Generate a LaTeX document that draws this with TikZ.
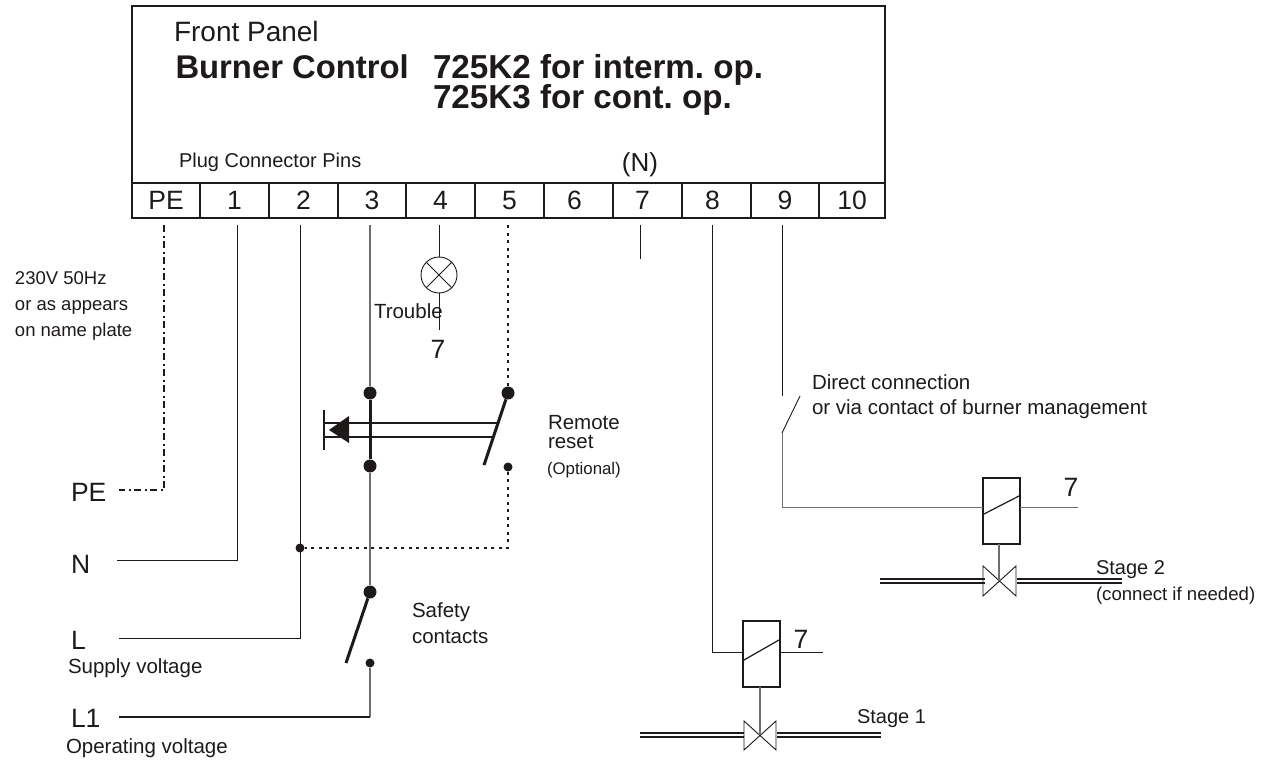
\documentclass[tikz,border=0pt]{standalone}
\usepackage{fontspec}
\setmainfont{Liberation Sans}
\definecolor{ink}{HTML}{1E1A1A}
\definecolor{wiregrey}{HTML}{6E6E6E}
\newcommand{\fs}[1]{\fontsize{#1}{#1}\selectfont\frenchspacing}
\tikzset{
  x=1pt,y=-1pt,
  lbl/.style={inner sep=0pt,outer sep=0pt,anchor=base west,text=ink},
  big/.style={lbl,font=\fs{26.5}},
  head/.style={lbl,font=\fs{32.8}\bfseries},
  mid/.style={lbl,font=\fs{20.5}},
  sideinfo/.style={lbl,font=\fs{18.5}},
  tiny/.style={lbl,font=\fs{16.8}},
  pin/.style={draw=ink,line width=1.5pt,minimum height=35pt,inner sep=0pt,outer sep=0pt,anchor=north west,font=\fs{26.5},text=ink},
  wire/.style={draw=ink,line width=0.9pt},
  greywire/.style={draw=wiregrey,line width=1.1pt},
  dotwire/.style={draw=ink,line width=1.6pt,dash pattern=on 3pt off 4.5pt},
  dashdot/.style={draw=ink,line width=1.4pt,dash pattern=on 7pt off 3.5pt on 2pt off 3.5pt},
  heavy/.style={draw=ink,line width=3pt},
  bigdot/.style={circle,fill=ink,inner sep=0pt,minimum size=13pt},
  smalldot/.style={circle,fill=ink,inner sep=0pt,minimum size=9pt},
  relay/.style={draw=ink,line width=1.3pt,inner sep=0pt,outer sep=0pt,anchor=north west},
  pipe/.style={draw=ink,line width=1.4pt},
}
\begin{document}
\begin{tikzpicture}
\useasboundingbox (0,0) rectangle (1270,760);
% panel
\node[draw=ink,line width=1.5pt,inner sep=0pt,outer sep=0pt,anchor=north west,minimum width=753pt,minimum height=212pt] (panel) at (132,6) {};
\node[lbl,font=\fs{28}] (tFront) at (174,42) {Front Panel};
\node[head] (tBurner) at (175.5,78) {Burner Control};
\node[head,font=\fs{33.2}\bfseries] (tK2) at (433,78) {725K2 for interm. op.};
\node[head,font=\fs{33.2}\bfseries] (tK3) at (433,108) {725K3 for cont. op.};
\node[mid,font=\fs{20}] (tPlug) at (179,167) {Plug Connector Pins};
\node[lbl,font=\fs{26},anchor=base] (tN) at (640,171) {(N)};
% pins
\node[pin,minimum width=68pt] (pPE) at (132,183) {PE};
\node[pin,minimum width=69pt] (p1) at (200,183) {1};
\node[pin,minimum width=69pt] (p2) at (269,183) {2};
\node[pin,minimum width=68pt] (p3) at (338,183) {3};
\node[pin,minimum width=69pt] (p4) at (406,183) {4};
\node[pin,minimum width=69pt] (p5) at (475,183) {5};
\node[pin,minimum width=69pt] (p6) at (544,183) {\kern-8pt 6};
\node[pin,minimum width=69pt] (p7) at (613,183) {\kern-10pt 7};
\node[pin,minimum width=69pt] (p8) at (682,183) {\kern-8pt 8};
\node[pin,minimum width=68pt] (p9) at (751,183) {9};
\node[pin,minimum width=66pt] (p10) at (819,183) {10};
% left labels
\node[sideinfo] (tV1) at (15,284) {230V 50Hz};
\node[sideinfo] (tV2) at (15,310) {or as appears};
\node[sideinfo] (tV3) at (15,336) {on name plate};
\node[big] (lPE) at (71,501) {PE};
\node[big] (lN) at (71,573) {N};
\node[big] (lL) at (71,649) {L};
\node[big] (lL1) at (71,727) {L1};
\node[mid] (tSupply) at (68,673) {Supply voltage};
\node[mid] (tOper) at (66,753) {Operating voltage};
% free ends
\coordinate (ePE) at (119,490);
\coordinate (eN) at (117,560);
\coordinate (eL) at (119,638);
\coordinate (eL1) at (119,717);
\coordinate (wPE) at (164,225);
\coordinate (w1) at (237,225);
\coordinate (w2) at (300,225);
\coordinate (w3) at (370,225);
\coordinate (w4) at (439,225);
\coordinate (w5) at (508,225);
\coordinate (w7) at (640,225);
\coordinate (w7e) at (640,259);
\coordinate (w8) at (712,225);
\coordinate (w9) at (782,225);
% PE, N, L
\draw[dashdot] (wPE) |- (ePE);
\draw[wire] (w1) |- (eN);
\draw[wire] (w2) |- (eL);
\draw[wire] (w7) -- (w7e);
% lamp
\node[circle,draw=ink,line width=0.9pt,minimum size=36pt,inner sep=0pt,outer sep=0pt] (lamp) at (439,275) {};
\draw[wire] (lamp.north west) -- (lamp.south east);
\draw[wire] (lamp.north east) -- (lamp.south west);
\coordinate (lampEnd) at (439,330);
\draw[wire] (w4) -- (lamp.north);
\draw[wire] (lamp.south) -- (lampEnd);
\node[mid] (tTrouble) at (374,318) {Trouble};
\node[big,anchor=base] (t7a) at (438,358) {7};
% reset
\node[bigdot] (d3a) at (370,393) {};
\node[bigdot] (d3b) at (370,466) {};
\node[bigdot] (d5a) at (508,393) {};
\node[smalldot] (d5b) at (508,467) {};
\coordinate (sw5e) at (484,465);
\draw[greywire] (w3) -- (d3a);
\draw[heavy] (d3a) -- (d3b);
\draw[dotwire] (w5) -- (d5a);
\draw[heavy] (d5a) -- (sw5e);
\coordinate (rA) at (325,423);
\coordinate (rAe) at (497,423);
\coordinate (rB) at (325,437);
\coordinate (rBe) at (493,437);
\draw[draw=ink,line width=1.6pt] (rA) -- (rAe);
\draw[draw=ink,line width=1.6pt] (rB) -- (rBe);
\coordinate (bar1) at (324,410);
\coordinate (bar2) at (324,450);
\draw[draw=ink,line width=1.4pt] (bar1) -- (bar2);
\coordinate (tri1) at (329,430);
\coordinate (tri2) at (349,416);
\coordinate (tri3) at (349,443);
\fill[ink] (tri1) -- (tri2) -- (tri3) -- cycle;
\node[mid] (tRemote) at (548,429) {Remote};
\node[mid] (tReset) at (548,448) {reset};
\node[tiny] (tOpt) at (547,474) {(Optional)};
% bus, safety
\node[smalldot] (jL) at (300,548) {};
\draw[dotwire] (d5b) |- (jL);
\node[bigdot] (d3c) at (370,592) {};
\node[smalldot] (d3d) at (370,663) {};
\coordinate (sw3e) at (346,663);
\coordinate (cL1) at (370,717);
\draw[greywire] (d3b) -- (d3c);
\draw[heavy] (d3c) -- (sw3e);
\draw[greywire] (d3d) -- (cL1);
\draw[draw=ink,line width=1.3pt] (cL1) -- (eL1);
\node[mid] (tSafety) at (412,617) {Safety};
\node[mid] (tContacts) at (412,643) {contacts};
% contact 9
\coordinate (c9a) at (782,396);
\coordinate (c9b) at (800,396);
\coordinate (c9c) at (782,433);
\draw[wire] (w9) -- (c9a);
\draw[wire] (c9b) -- (c9c);
\node[mid] (tDirect) at (812,389) {Direct connection};
\node[mid] (tVia) at (812,414) {or via contact of burner management};
% relay 2
\node[relay,minimum width=37pt,minimum height=66pt] (r2) at (983,478) {};
\coordinate (r2in) at (983,507);
\coordinate (r2o) at (1020,507);
\coordinate (r2e) at (1078,507);
\draw[wire,draw=wiregrey] (c9c) |- (r2in);
\draw[wire,draw=wiregrey] (r2o) -- (r2e);
\coordinate (r2d1) at (984,514);
\coordinate (r2d2) at (1019,496);
\draw[draw=ink,line width=1.2pt] (r2d1) -- (r2d2);
\node[big,anchor=base] (t7c) at (1071,496) {7};
% relay 1
\node[relay,minimum width=37pt,minimum height=66pt] (r1) at (743,621) {};
\coordinate (r1in) at (743,652);
\coordinate (r1o) at (780,652);
\coordinate (r1e) at (823,652);
\draw[wire] (w8) |- (r1in);
\draw[wire] (r1o) -- (r1e);
\coordinate (r1d1) at (744,660);
\coordinate (r1d2) at (779,640);
\draw[draw=ink,line width=1.2pt] (r1d1) -- (r1d2);
\node[big,anchor=base] (t7b) at (801,648) {7};
% valve 1
\coordinate (v1) at (760,735);
\coordinate (v1s) at (760,687);
\coordinate (v1a) at (744,721); \coordinate (v1b) at (744,750);
\coordinate (v1c) at (776,721); \coordinate (v1d) at (776,750);
\draw[wire] (v1a) -- (v1d) -- (v1c) -- (v1b) -- cycle;
\draw[greywire] (v1s) -- (v1);
\draw[pipe] (640,733) -- (744,733);
\draw[pipe] (640,737) -- (744,737);
\draw[pipe] (777,733) -- (881,733);
\draw[pipe] (777,737) -- (881,737);
\node[mid,font=\fs{20}] (tS1) at (857,723) {Stage 1};
% valve 2
\coordinate (v2) at (999,581);
\coordinate (v2s) at (999,544);
\coordinate (v2a) at (983,566); \coordinate (v2b) at (983,596);
\coordinate (v2c) at (1016,566); \coordinate (v2d) at (1016,596);
\draw[wire] (v2a) -- (v2d) -- (v2c) -- (v2b) -- cycle;
\draw[greywire] (v2s) -- (v2);
\draw[pipe] (880,579) -- (985,579);
\draw[pipe] (880,583) -- (985,583);
\draw[pipe] (1017,579) -- (1122,579);
\draw[pipe] (1017,583) -- (1122,583);
\node[mid,font=\fs{20}] (tS2) at (1096,574) {Stage 2};
\node[lbl,font=\fs{18.6}] (tS2b) at (1096,600) {(connect if needed)};
\end{tikzpicture}
\end{document}
